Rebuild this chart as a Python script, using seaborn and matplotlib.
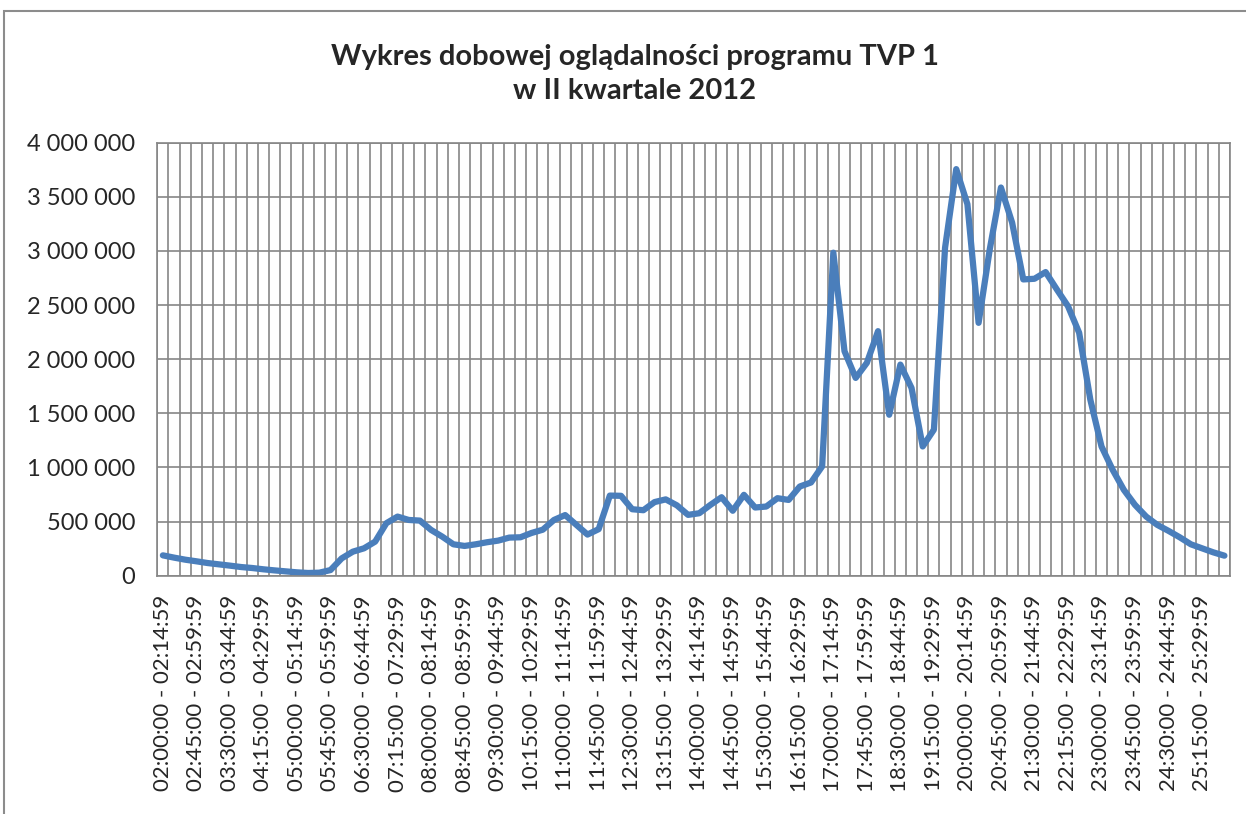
import numpy as np
import pandas as pd
import matplotlib
matplotlib.use("Agg")
import matplotlib.pyplot as plt
import seaborn as sns
from matplotlib.ticker import FuncFormatter
from matplotlib.patches import Rectangle

# oglądalność w kolejnych kwadransach (02:00 - 25:59)
widzowie = [
    188000, 167000, 148000, 133000, 117000, 105000, 93000, 80000,
    71000, 59000, 49000, 40000, 31000, 25000, 28000, 52000,
    160000, 222000, 253000, 315000, 485000, 546000, 515000, 509000,
    423000, 361000, 290000, 275000, 290000, 309000, 324000, 352000,
    355000, 395000, 425000, 515000, 560000, 470000, 380000, 430000,
    740000, 738000, 614000, 605000, 680000, 705000, 650000, 562000,
    577000, 654000, 725000, 600000, 747000, 630000, 639000, 716000,
    700000, 824000, 861000, 1010000, 2984000, 2074000, 1827000, 1966000,
    2259000, 1487000, 1950000, 1734000, 1194000, 1349000, 3030000, 3756000,
    3432000, 2336000, 3015000, 3586000, 3262000, 2737000, 2743000, 2805000,
    2645000, 2490000, 2244000, 1626000, 1194000, 978000, 793000, 654000,
    546000, 469000, 414000, 355000, 290000, 253000, 216000, 185000,
]

# etykiety przedziałów czasowych
przedzialy = []
for k in range(len(widzowie)):
    m = 120 + 15 * k
    e = m + 14
    przedzialy.append(f"{m // 60:02d}:{m % 60:02d}:00 - {e // 60:02d}:{e % 60:02d}:59")

tytul = "Wykres dobowej oglądalności programu TVP 1\nw II kwartale 2012"

df = pd.DataFrame({"nr": range(len(widzowie)), "przedzial": przedzialy, "widzowie": widzowie})

sns.set_style("white")
plt.rcParams["font.family"] = ["Lato", "DejaVu Sans"]

szary = "#868686"
fig = plt.figure(figsize=(12.46, 8.14), dpi=100)
ax = fig.add_axes([157.3 / 1246, 1 - 575.7 / 814, (1230 - 157.3) / 1246, (575.7 - 142.7) / 814])

sns.lineplot(data=df, x="nr", y="widzowie", ax=ax, color="#4A7EBB", lw=4.5,
             solid_joinstyle="round", solid_capstyle="round")

n = len(widzowie)
ax.set_xlim(-0.5, n - 0.5)
ax.set_ylim(0, 4000000)
ax.set_yticks(np.arange(0, 4000001, 500000))
ax.yaxis.set_major_formatter(FuncFormatter(lambda v, p: f"{int(v):,}".replace(",", " ")))
ax.set_xticks(range(0, n, 3))
ax.set_xticklabels([przedzialy[i] for i in range(0, n, 3)], rotation=90)
ax.set_xticks(np.arange(-0.5, n, 1), minor=True)

ax.grid(which="minor", axis="x", color=szary, lw=1.2)
ax.grid(which="major", axis="y", color=szary, lw=1.2)
ax.set_axisbelow(True)
ax.tick_params(axis="x", which="major", length=0, pad=14, labelsize=16)
ax.tick_params(axis="x", which="minor", length=6, width=1.2, color=szary)
ax.tick_params(axis="y", length=6, width=1.2, color=szary, pad=10, labelsize=17)
for s in ax.spines.values():
    s.set_color(szary)
    s.set_linewidth(1.2)
ax.set_xlabel("")
ax.set_ylabel("")

fig.text(635 / 1246, 1 - 74 / 814, tytul, ha="center", va="center",
         fontsize=21, fontweight="bold", linespacing=1.35)

# ramka obszaru wykresu
fig.patches.append(Rectangle((4 / 1246, -0.1), 1.2, 1.1 - 11 / 814, transform=fig.transFigure,
                             fill=False, edgecolor="#8c8c8c", lw=1.5))

fig.savefig("out.png", dpi=100)
